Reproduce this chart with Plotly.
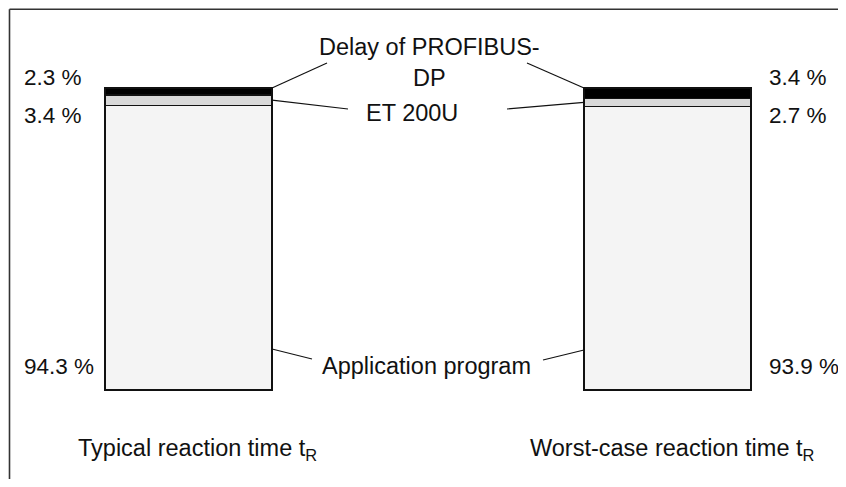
import plotly.graph_objects as go

# data
cases = ["Typical reaction time t<sub>R</sub>", "Worst-case reaction time t<sub>R</sub>"]
components = ["Application program", "ET 200U", "Delay of PROFIBUS-<br>DP"]
typical = [94.3, 3.4, 2.3]
worst_case = [93.9, 2.7, 3.4]
colors = ["#f4f4f4", "#d9d9d9", "#000000"]

# the page body adds an 8 px margin on every side, so the figure is
# 16 px smaller and its axes start at pixel 8 of the reference picture
OFF = 8
W, H = 846 - 2 * OFF, 487 - 2 * OFF
FONT = "Liberation Sans, Arial, sans-serif"
FS_TXT = 23.5
FS_NUM = 22.5

# x axis is in pixels, y axis is in percent
bar_x = [188.5, 667.5]
bar_w = 167
y_bottom, y_top = 390, 88
scale = (y_bottom - y_top) / 100.0


def yv(py):
    # pixel row -> percent units on the y axis
    return (y_bottom - py) / scale


fig = go.Figure()
for i, comp in enumerate(components):
    fig.add_trace(go.Bar(
        x=bar_x, y=[typical[i], worst_case[i]], width=bar_w,
        name=comp, marker=dict(color=colors[i], line=dict(color="#111", width=1.3)),
        showlegend=False, hoverinfo="skip",
    ))

left_edge = bar_x[1] - bar_w / 2
right_edge = bar_x[0] + bar_w / 2

anns = []
def txt(x, py, s, anchor="center", size=FS_TXT):
    anns.append(dict(x=x, y=yv(py), xref="x", yref="y", text=s, showarrow=False,
                     xanchor=anchor, yanchor="middle",
                     font=dict(family=FONT, size=size, color="#111")))

# percentage labels
txt(22, 77, f"{typical[2]} %", "left", FS_NUM)
txt(22, 115, f"{typical[1]} %", "left", FS_NUM)
txt(22, 366, f"{typical[0]} %", "left", FS_NUM)
txt(767, 77, f"{worst_case[2]} %", "left", FS_NUM)
txt(767, 115, f"{worst_case[1]} %", "left", FS_NUM)
txt(767, 366, f"{worst_case[0]} %", "left", FS_NUM)

# component names
txt(429, 62, components[2])
txt(412, 113, components[1])
txt(426, 366, components[0])

# case labels
txt(197, 449, cases[0])
txt(672, 449, cases[1])

# leader lines: bar end -> text
lines = [
    (right_edge, 100, 327, yv(63)),
    (right_edge, typical[0] + typical[1] / 2, 348, yv(109)),
    (left_edge, 100, 527, yv(63)),
    (left_edge, worst_case[0] + worst_case[1] / 2, 507, yv(109)),
    (right_edge, yv(349), 312, yv(359)),
    (left_edge, yv(350), 543, yv(360)),
]
shapes = [dict(type="line", xref="x", yref="y", x0=a, y0=b, x1=c, y1=d,
               line=dict(color="#111", width=1.2)) for a, b, c, d in lines]

# outer frame: only its left and top edges fall inside the picture
fx = (9.5 - OFF) / W
fy = 1 - 1.2 / H
shapes.append(dict(type="line", xref="paper", yref="paper", x0=fx, y0=-0.05, x1=fx, y1=fy,
                   line=dict(color="#333", width=1.6), layer="below"))
shapes.append(dict(type="line", xref="paper", yref="paper", x0=fx, y0=fy, x1=1.05, y1=fy,
                   line=dict(color="#333", width=1.6), layer="below"))

fig.update_layout(
    width=W, height=H, barmode="stack",
    margin=dict(l=0, r=0, t=0, b=0),
    paper_bgcolor="white", plot_bgcolor="white",
    xaxis=dict(range=[OFF, 846 - OFF], visible=False, fixedrange=True),
    yaxis=dict(range=[yv(487 - OFF), yv(OFF)], visible=False, fixedrange=True),
    annotations=anns, shapes=shapes,
)

fig.write_html("out.html")
